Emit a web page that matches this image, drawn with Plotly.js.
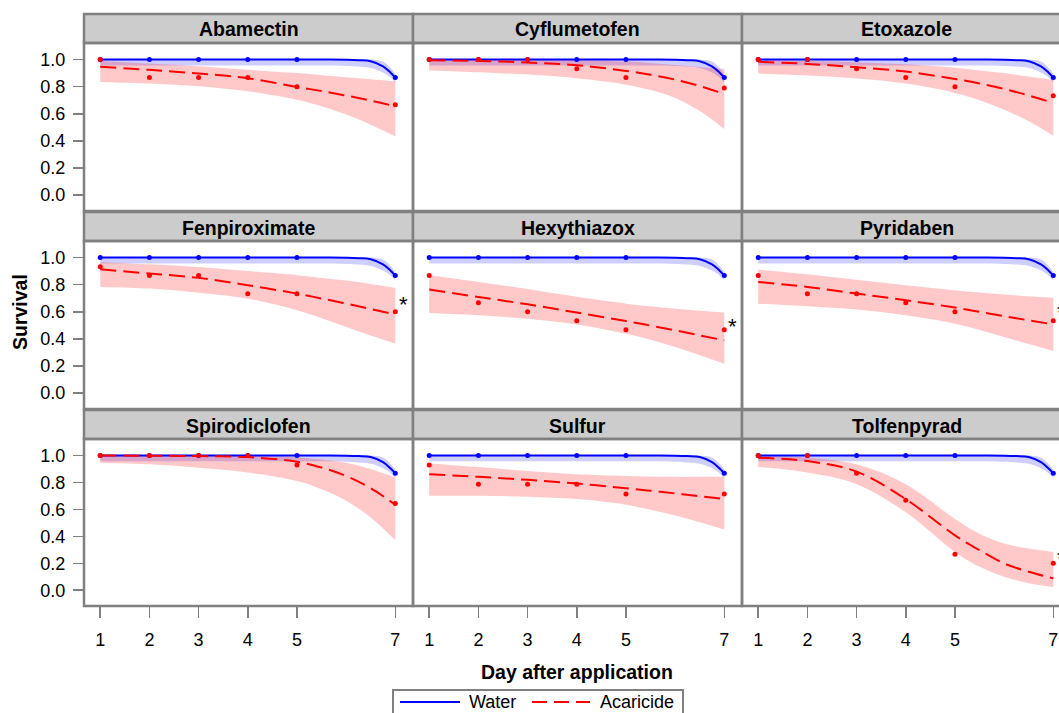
<!DOCTYPE html>
<html>
<head>
<meta charset="utf-8">
<script src="https://cdn.plot.ly/plotly-3.0.1.min.js"></script>
<style>
html,body{margin:0;padding:0;overflow:hidden;background:#fff;}
#chart{width:1072px;height:725px;}
</style>
</head>
<body>
<div id="chart"></div>
<script>
// ---------------- DATA ----------------
const treatments = ['Abamectin','Cyflumetofen','Etoxazole','Fenpiroximate','Hexythiazox','Pyridaben','Spirodiclofen','Sulfur','Tolfenpyrad'];
const days = [1,2,3,4,5,7];
const tickLabels = ['1','2','3','4','5','7'];
const survivalTicks = [0,0.2,0.4,0.6,0.8,1.0];
const survivalTickLabels = ['0.0','0.2','0.4','0.6','0.8','1.0'];

// Water control (same in every panel)
const waterObs = [1,1,1,1,1,0.867];
const waterFitDays = [1,2,3,4,5,5.5,6,6.25,6.5,6.75,6.9,7];
const waterFit = [1,1,1,1,1,1,0.998,0.995,0.988,0.95,0.905,0.867];
const waterLo  = [0.956,0.956,0.956,0.956,0.956,0.956,0.953,0.948,0.938,0.905,0.87,0.83];
const waterHi  = [1,1,1,1,1,1,1,1,1,0.985,0.94,0.895];

// Acaricide: observed survival at days
const obsAbamectin     = [1.0,0.867,0.867,0.867,0.8,0.667];
const obsCyflumetofen  = [1,1,1,0.933,0.867,0.79];
const obsEtoxazole     = [1,1,0.933,0.867,0.8,0.733];
const obsFenpiroximate = [0.933,0.867,0.867,0.733,0.733,0.6];
const obsHexythiazox   = [0.867,0.667,0.6,0.533,0.467,0.467];
const obsPyridaben     = [0.867,0.733,0.733,0.667,0.6,0.533];
const obsSpirodiclofen = [1,1,1,1,0.929,0.643];
const obsSulfur        = [0.929,0.786,0.786,0.786,0.714,0.714];
const obsTolfenpyrad   = [1,1,0.867,0.667,0.267,0.2];

// Acaricide: fitted curve and confidence band, read at these days
const fitDays = [1,2,3,4,5,5.5,6,6.5,7];
const fitAbamectin     = [0.946,0.924,0.897,0.862,0.798,0.768,0.734,0.697,0.655];
const hiAbamectin      = [0.99,0.97,0.95,0.925,0.90,0.885,0.87,0.855,0.84];
const loAbamectin      = [0.835,0.823,0.803,0.766,0.704,0.655,0.594,0.52,0.433];
const fitCyflumetofen  = [0.995,0.99,0.978,0.958,0.916,0.888,0.852,0.805,0.746];
const hiCyflumetofen   = [1.0,1.0,1.0,0.995,0.985,0.975,0.96,0.945,0.93];
const loCyflumetofen   = [0.919,0.906,0.889,0.862,0.815,0.775,0.717,0.62,0.488];
const fitEtoxazole     = [0.983,0.968,0.943,0.911,0.857,0.823,0.783,0.735,0.68];
const hiEtoxazole      = [0.995,0.99,0.98,0.965,0.94,0.92,0.90,0.875,0.85];
const loEtoxazole      = [0.897,0.882,0.86,0.823,0.754,0.70,0.63,0.545,0.438];
const fitFenpiroximate = [0.913,0.882,0.85,0.796,0.734,0.698,0.66,0.62,0.579];
const hiFenpiroximate  = [0.968,0.95,0.93,0.90,0.87,0.85,0.83,0.805,0.776];
const loFenpiroximate  = [0.783,0.771,0.741,0.697,0.611,0.553,0.488,0.425,0.365];
const fitHexythiazox   = [0.764,0.709,0.655,0.594,0.532,0.498,0.463,0.426,0.389];
const hiHexythiazox    = [0.869,0.82,0.768,0.71,0.66,0.64,0.623,0.608,0.594];
const loHexythiazox    = [0.591,0.574,0.549,0.507,0.438,0.393,0.34,0.28,0.217];
const fitPyridaben     = [0.82,0.783,0.734,0.685,0.631,0.60,0.567,0.537,0.507];
const hiPyridaben      = [0.911,0.877,0.837,0.796,0.759,0.742,0.727,0.715,0.704];
const loPyridaben      = [0.66,0.64,0.616,0.574,0.512,0.466,0.414,0.362,0.31];
const fitSpirodiclofen = [1.0,0.998,0.995,0.988,0.953,0.91,0.848,0.757,0.635];
const hiSpirodiclofen  = [1,1,1,1,0.985,0.97,0.945,0.90,0.836];
const loSpirodiclofen  = [0.946,0.934,0.909,0.873,0.811,0.75,0.664,0.54,0.37];
const fitSulfur        = [0.86,0.841,0.819,0.792,0.757,0.738,0.718,0.697,0.676];
const hiSulfur         = [0.941,0.914,0.885,0.86,0.848,0.844,0.841,0.841,0.841];
const loSulfur         = [0.701,0.701,0.694,0.676,0.635,0.598,0.554,0.505,0.451];
const fitTolfenpyrad   = [0.983,0.958,0.88,0.676,0.407,0.297,0.199,0.137,0.088];
const hiTolfenpyrad    = [1.0,0.983,0.934,0.787,0.529,0.419,0.346,0.309,0.284];
const loTolfenpyrad    = [0.914,0.873,0.787,0.578,0.284,0.174,0.10,0.051,0.022];

// Significance marks (asterisk) at day 7
const starTreatments = ['Fenpiroximate','Hexythiazox','Pyridaben','Tolfenpyrad'];
const starY = [0.69,0.53,0.635,0.272];

// ---------------- BUILD ----------------
const acaricide = {
  Abamectin:[obsAbamectin,fitAbamectin,loAbamectin,hiAbamectin],
  Cyflumetofen:[obsCyflumetofen,fitCyflumetofen,loCyflumetofen,hiCyflumetofen],
  Etoxazole:[obsEtoxazole,fitEtoxazole,loEtoxazole,hiEtoxazole],
  Fenpiroximate:[obsFenpiroximate,fitFenpiroximate,loFenpiroximate,hiFenpiroximate],
  Hexythiazox:[obsHexythiazox,fitHexythiazox,loHexythiazox,hiHexythiazox],
  Pyridaben:[obsPyridaben,fitPyridaben,loPyridaben,hiPyridaben],
  Spirodiclofen:[obsSpirodiclofen,fitSpirodiclofen,loSpirodiclofen,hiSpirodiclofen],
  Sulfur:[obsSulfur,fitSulfur,loSulfur,hiSulfur],
  Tolfenpyrad:[obsTolfenpyrad,fitTolfenpyrad,loTolfenpyrad,hiTolfenpyrad]
};

const W = 1072, H = 725;
const px = v => v / W;
const py = v => 1 - v / H;
const colLeft = [84,413,742], colRight = [413,742,1071];
const rowTop = [43,241,439], rowBottom = [211,409,606], headTop = [14,212,410];
const FONT = '"Liberation Sans", Arial, Helvetica, sans-serif';
const GRAY = '#808080';
const BLUE = '#0000ff', RED = '#ff0000';

const traces = [];
const layout = {
  width: W, height: H,
  margin: {l:0, r:0, t:0, b:0},
  paper_bgcolor: '#ffffff', plot_bgcolor: '#ffffff',
  showlegend: false,
  font: {family: FONT, color: '#000'},
  shapes: [], annotations: []
};

treatments.forEach((name, i) => {
  const r = Math.floor(i / 3), c = i % 3;
  const sfx = i === 0 ? '' : String(i + 1);
  const xa = 'x' + sfx, ya = 'y' + sfx;
  const [obs, fit, lo, hi] = acaricide[name];
  const common = {xaxis: xa, yaxis: ya, hoverinfo: 'skip', showlegend: false};

  traces.push(Object.assign({x: waterFitDays, y: waterLo, mode: 'lines', line: {width: 0, shape: 'spline'}}, common));
  traces.push(Object.assign({x: waterFitDays, y: waterHi, mode: 'lines', line: {width: 0, shape: 'spline'}, fill: 'tonexty', fillcolor: 'rgba(0,0,255,0.19)'}, common));
  traces.push(Object.assign({x: fitDays, y: lo, mode: 'lines', line: {width: 0, shape: 'spline'}}, common));
  traces.push(Object.assign({x: fitDays, y: hi, mode: 'lines', line: {width: 0, shape: 'spline'}, fill: 'tonexty', fillcolor: 'rgba(255,0,0,0.21)'}, common));
  traces.push(Object.assign({x: waterFitDays, y: waterFit, mode: 'lines', name: 'Water', line: {color: BLUE, width: 2, shape: 'spline'}}, common));
  traces.push(Object.assign({x: days, y: waterObs, mode: 'markers', marker: {color: BLUE, size: 5}}, common));
  traces.push(Object.assign({x: fitDays, y: fit, mode: 'lines', name: 'Acaricide', line: {color: RED, width: 2, shape: 'spline', dash: '16px,7px'}}, common));
  traces.push(Object.assign({x: days, y: obs, mode: 'markers', marker: {color: RED, size: 5}}, common));

  layout['xaxis' + sfx] = {
    domain: [px(colLeft[c]), px(colRight[c])], anchor: ya,
    range: [0.67, 7.36], tickvals: days, ticktext: tickLabels,
    showticklabels: r === 2, ticks: r === 2 ? 'outside' : '',
    ticklen: 11, tickwidth: 1.5, tickcolor: GRAY,
    tickfont: {size: 18, family: FONT, color: '#000'},
    ticklabelstandoff: 6,
    showgrid: false, zeroline: false, showline: false, fixedrange: true
  };
  layout['yaxis' + sfx] = {
    domain: [py(rowBottom[r]), py(rowTop[r])], anchor: xa,
    range: [-0.117, 1.122], tickvals: survivalTicks, ticktext: survivalTickLabels,
    showticklabels: c === 0, ticks: c === 0 ? 'outside' : '',
    ticklen: 10, tickwidth: 1.5, tickcolor: GRAY,
    tickfont: {size: 18, family: FONT, color: '#000'},
    ticklabelstandoff: 4,
    showgrid: false, zeroline: false, showline: false, fixedrange: true
  };

  // header strip
  layout.shapes.push({type: 'rect', xref: 'paper', yref: 'paper',
    x0: px(colLeft[c]), x1: px(colRight[c]), y0: py(rowTop[r]), y1: py(headTop[r]),
    fillcolor: '#cccccc', line: {color: GRAY, width: 2.5}, layer: 'below'});
  // panel frame
  layout.shapes.push({type: 'rect', xref: 'paper', yref: 'paper',
    x0: px(colLeft[c]), x1: px(colRight[c]), y0: py(rowBottom[r]), y1: py(rowTop[r]),
    line: {color: GRAY, width: 2.5}, layer: 'above'});
  layout.annotations.push({xref: 'paper', yref: 'paper',
    x: px((colLeft[c] + colRight[c]) / 2), y: py((headTop[r] + rowTop[r]) / 2 + 1),
    text: name, showarrow: false, xanchor: 'center', yanchor: 'middle',
    font: {size: 19.5, family: FONT, weight: 'bold', color: '#000'}});

  const si = starTreatments.indexOf(name);
  if (si >= 0) {
    layout.annotations.push({xref: xa, yref: ya, x: 7.17, y: starY[si],
      text: '*', showarrow: false, xanchor: 'center', yanchor: 'middle', yshift: -5,
      font: {size: 22, family: FONT, color: '#000'}});
  }
});

// axis titles
layout.annotations.push({xref: 'paper', yref: 'paper', x: px(577), y: py(672),
  text: 'Day after application', showarrow: false, xanchor: 'center', yanchor: 'middle',
  font: {size: 19.5, family: FONT, weight: 'bold', color: '#000'}});
layout.annotations.push({xref: 'paper', yref: 'paper', x: px(20), y: py(312),
  text: 'Survival', showarrow: false, textangle: -90, xanchor: 'center', yanchor: 'middle',
  font: {size: 19.5, family: FONT, weight: 'bold', color: '#000'}});

// legend box
layout.shapes.push({type: 'rect', xref: 'paper', yref: 'paper',
  x0: px(393), x1: px(683), y0: py(722), y1: py(690), line: {color: GRAY, width: 2}, fillcolor: '#ffffff'});
layout.shapes.push({type: 'line', xref: 'paper', yref: 'paper',
  x0: px(400), x1: px(460), y0: py(702), y1: py(702), line: {color: BLUE, width: 2}});
layout.shapes.push({type: 'line', xref: 'paper', yref: 'paper',
  x0: px(532), x1: px(590), y0: py(702), y1: py(702), line: {color: RED, width: 2, dash: '15px,7px'}});
layout.annotations.push({xref: 'paper', yref: 'paper', x: px(467), y: py(702),
  text: 'Water', showarrow: false, xanchor: 'left', yanchor: 'middle',
  font: {size: 18, family: FONT, color: '#000'}});
layout.annotations.push({xref: 'paper', yref: 'paper', x: px(598), y: py(702),
  text: 'Acaricide', showarrow: false, xanchor: 'left', yanchor: 'middle',
  font: {size: 18, family: FONT, color: '#000'}});

Plotly.newPlot('chart', traces, layout, {staticPlot: true, displayModeBar: false, responsive: false});
</script>
</body>
</html>
